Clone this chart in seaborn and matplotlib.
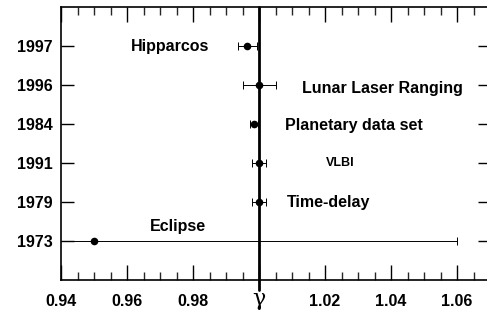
import matplotlib
matplotlib.use("Agg")
import matplotlib.pyplot as plt
import numpy as np
import pandas as pd
import seaborn as sns
from matplotlib.ticker import MultipleLocator

# measurements of the PPN parameter gamma
experiments = ["Hipparcos", "Lunar Laser Ranging", "Planetary data set", "VLBI", "Time-delay", "Eclipse"]
years = ["1997", "1996", "1984", "1991", "1979", "1973"]
gamma = [0.9965, 1.000, 0.9985, 1.000, 1.000, 0.950]
gamma_err = [0.003, 0.005, 0.0013, 0.002, 0.002, 0.110]

xticks = [0.94, 0.96, 0.98, 1.00, 1.02, 1.04, 1.06]
xticklabels = ["0.94", "0.96", "0.98", "", "1.02", "1.04", "1.06"]

df = pd.DataFrame({"year": years, "gamma": gamma, "err": gamma_err, "name": experiments})

sns.set_theme(style="ticks")
plt.rcParams["font.family"] = ["Liberation Sans", "DejaVu Sans"]

px = 1 / 100
fig = plt.figure(figsize=(487 * px, 315 * px), dpi=100)
ax = fig.add_axes([61 / 487, 35 / 315, 429 / 487, 273 / 315])

pos = np.arange(len(df))
ax.axvline(1.0, ymin=-0.035, ymax=1.0, color="black", lw=2.0, zorder=1, clip_on=False)
ax.errorbar(df["gamma"], pos, xerr=df["err"], fmt="none", ecolor="black",
            elinewidth=0.7, capsize=3, capthick=0.7, zorder=2)
sns.scatterplot(x=df["gamma"], y=pos, color="black", s=30, edgecolor="black",
                linewidth=0, ax=ax, zorder=3)

# label placement (x centre, y offset from row)
label_x = [0.973, 1.0374, 1.0288, 1.0245, 1.0211, 0.9753]
label_dy = [0.0, 0.08, 0.05, 0.0, 0.0, -0.36]
label_size = [11.5, 11.5, 11.5, 9, 11.5, 11.5]
for i, name in enumerate(df["name"]):
    ax.text(label_x[i], pos[i] + label_dy[i], name, ha="center", va="center",
            fontsize=label_size[i], fontweight="bold", color="black")

ax.set_xlim(0.94, 1.07)
ax.set_ylim(len(df), -1)
ax.set_xticks(xticks)
ax.set_xticklabels(xticklabels)
ax.xaxis.set_minor_locator(MultipleLocator(0.005))
ax.set_yticks(pos)
ax.set_yticklabels(df["year"])
ax.set_xlabel("")
ax.set_ylabel("")

# gamma symbol in place of the 1.00 tick label
ax.text(1.0, -0.03, "\u03b3", transform=ax.get_xaxis_transform(), ha="center",
        va="top", fontsize=16, family=["DejaVu Serif", "DejaVu Sans"], color="black")

for sp in ax.spines.values():
    sp.set_visible(True)
    sp.set_linewidth(1.2)
    sp.set_color("black")

ax.tick_params(axis="x", which="major", direction="in", length=11, width=1.0,
               top=True, bottom=True, labelsize=11.5, pad=10, colors="black")
ax.tick_params(axis="x", which="minor", direction="in", length=6, width=1.0,
               top=True, bottom=True)
ax.tick_params(axis="y", which="major", direction="in", length=9, width=1.0,
               left=True, right=True, labelsize=11.5, pad=6, colors="black")
for lab in ax.get_xticklabels() + ax.get_yticklabels():
    lab.set_fontweight("bold")

fig.savefig("out.png", dpi=100)
